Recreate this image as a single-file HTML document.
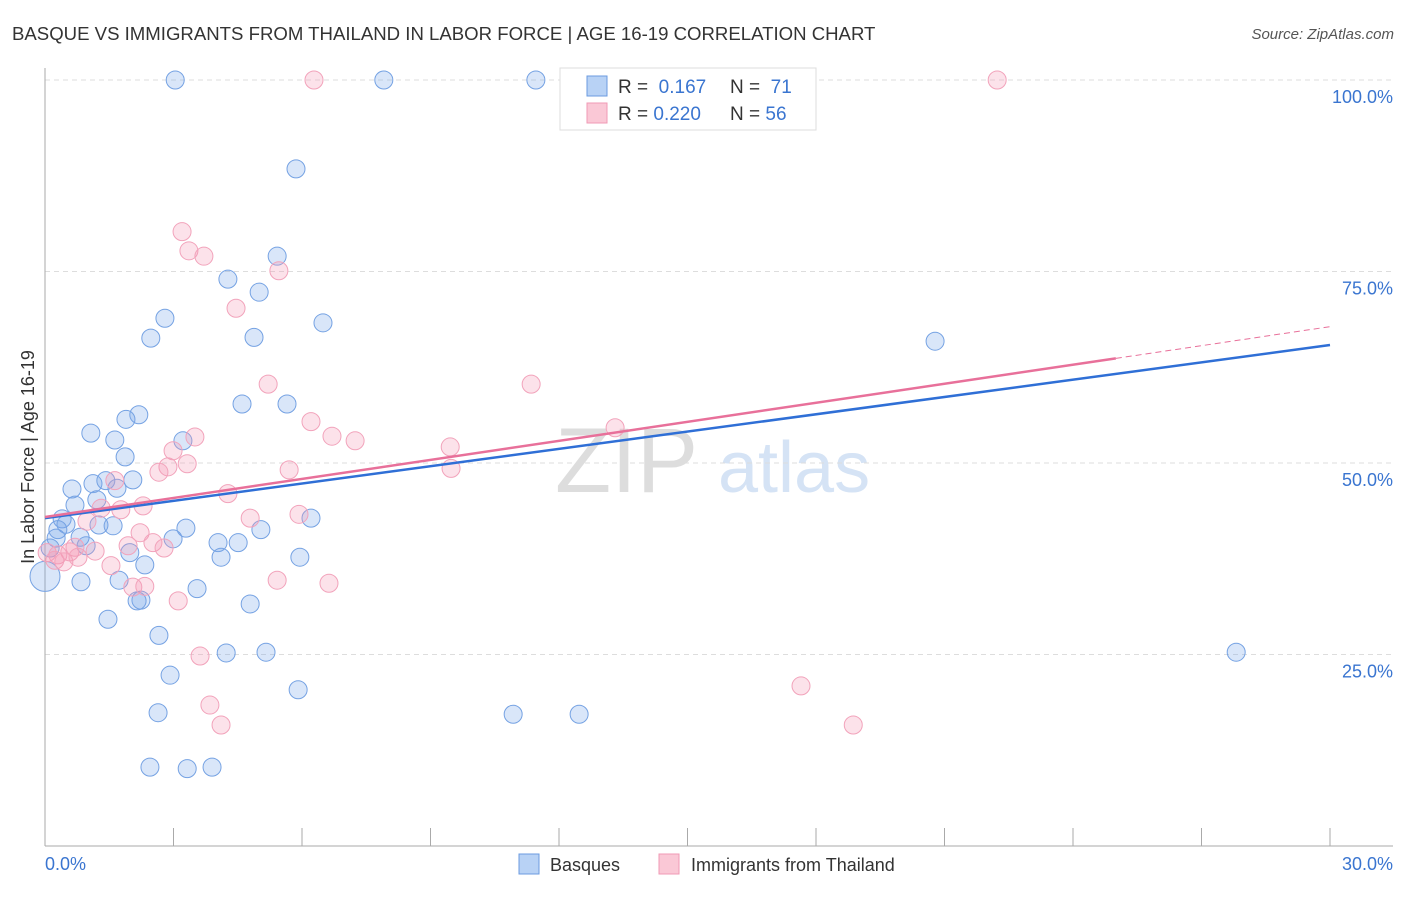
<!DOCTYPE html>
<html><head><meta charset="utf-8"><style>
body{margin:0;background:#fff;font-family:"Liberation Sans",sans-serif;}
svg text{font-family:"Liberation Sans",sans-serif;}
</style></head><body>
<svg id="chart" width="1406" height="892">
<text x="12" y="40" font-size="18.6" fill="#333">BASQUE VS IMMIGRANTS FROM THAILAND IN LABOR FORCE | AGE 16-19 CORRELATION CHART</text>
<text x="1394" y="39" font-size="15" fill="#555" font-style="italic" text-anchor="end">Source: ZipAtlas.com</text>
<text x="555" y="492" font-size="92" fill="#ddd" font-family="Liberation Serif,serif">ZIP</text>
<text x="718" y="492" font-size="72" fill="#d5e3f5">atlas</text>
<g id="grid"></g>
<g id="pts"></g>
<g id="lines"></g>
<text transform="translate(34,457) rotate(-90)" font-size="18" fill="#333" text-anchor="middle">In Labor Force | Age 16-19</text>
<text x="45" y="870" font-size="18" fill="#3a75d0">0.0%</text>
<text x="1393" y="870" font-size="18" fill="#3a75d0" text-anchor="end">30.0%</text>
<g>
<rect x="560" y="68" width="256" height="62" fill="#fff" stroke="#ddd"/>
<rect x="587" y="76" width="20" height="20" fill="#b8d2f5" stroke="#6b9be0"/>
<rect x="587" y="103" width="20" height="20" fill="#fac8d6" stroke="#f09ab5"/>
<text x="618" y="93" font-size="19" fill="#333">R = <tspan fill="#3a75d0">&#160;0.167</tspan></text>
<text x="730" y="93" font-size="19" fill="#333">N = <tspan fill="#3a75d0">&#160;71</tspan></text>
<text x="618" y="120" font-size="19" fill="#333">R = <tspan fill="#3a75d0">0.220</tspan></text>
<text x="730" y="120" font-size="19" fill="#333">N = <tspan fill="#3a75d0">56</tspan></text>
</g>
<g>
<rect x="519" y="854" width="20" height="20" fill="#b8d2f5" stroke="#6b9be0"/>
<text x="550" y="871" font-size="18" fill="#333">Basques</text>
<rect x="659" y="854" width="20" height="20" fill="#fac8d6" stroke="#f09ab5"/>
<text x="691" y="871" font-size="18" fill="#333">Immigrants from Thailand</text>
</g>
</svg>
<script>
const yTicks=[25,50,75,100];
const yTickLabels=["25.0%","50.0%","75.0%","100.0%"];
const blueX=[3.04,7.91,11.46,5.86,5.42,4.27,5.00,2.80,6.49,2.47,4.88,20.78,4.60,5.65,2.19,1.89,1.07,1.63,3.22,1.87,0.63,1.12,1.42,2.05,1.68,1.21,0.70,0.40,0.49,0.30,1.26,1.59,0.96,0.26,0.82,1.98,3.29,2.99,4.04,4.51,5.04,6.21,5.95,4.11,2.33,1.73,0.84,3.55,2.24,2.15,4.79,1.47,2.66,2.92,4.23,5.16,5.91,2.64,10.93,12.47,2.45,3.32,3.90,27.81,0.12];
const blueY=[100,100,100,88.4,77.0,74.0,72.3,68.9,68.3,66.3,66.4,65.9,57.7,57.7,56.3,55.7,53.9,53.0,52.9,50.8,46.6,47.3,47.7,47.8,46.7,45.2,44.5,42.7,42.0,41.3,41.9,41.8,39.2,40.2,40.3,38.3,41.5,40.1,39.6,39.6,41.3,42.8,37.7,37.7,36.7,34.7,34.5,33.6,32.1,32.0,31.6,29.6,27.5,22.3,25.2,25.3,20.4,17.4,17.2,17.2,10.3,10.1,10.3,25.3,38.9];
const pinkX=[6.28,22.23,3.20,3.36,3.71,5.46,4.46,5.21,11.35,3.50,6.21,6.70,7.24,2.99,13.31,9.46,3.32,2.87,2.66,9.48,5.70,1.63,4.27,2.29,5.93,1.31,1.77,4.79,2.22,0.98,2.52,1.94,2.78,0.70,0.05,0.30,0.58,1.17,0.23,0.44,0.77,1.54,2.05,2.33,3.11,5.42,6.63,3.62,17.65,3.85,4.11,18.87];
const pinkY=[100,100,80.2,77.7,77.0,75.1,70.2,60.3,60.3,53.4,55.4,53.5,52.9,51.6,54.6,52.1,49.9,49.5,48.8,49.3,49.1,47.7,46.0,44.4,43.3,44.1,43.9,42.8,40.9,42.4,39.6,39.2,38.9,39.0,38.3,38.0,38.4,38.5,37.3,37.1,37.7,36.6,33.8,33.9,32.0,34.7,34.3,24.8,20.9,18.4,15.8,15.8];
const blueTrend=[42.8,65.4];
const pinkTrend=[42.95,67.8];
const pinkSolidEnd=25;
const NS="http://www.w3.org/2000/svg";
const X=v=>45+v/30*1285;
const Y=v=>846-v/100*766;
function mk(t,a,p){const e=document.createElementNS(NS,t);for(const k in a)e.setAttribute(k,a[k]);p.appendChild(e);return e;}
const grid=document.getElementById('grid');
yTicks.forEach((t,i)=>{
 const l=mk('line',{x1:45,x2:1393,y1:Y(t),y2:Y(t),stroke:'#ddd','stroke-dasharray':'5,4'},grid);
 
 
 const tx=mk('text',{x:1393,y:Y(t)+23,'font-size':18,fill:'#3a75d0','text-anchor':'end'},grid);
 tx.textContent=yTickLabels[i];
 
 
});
const ax=mk('line',{x1:45,x2:45,y1:68,y2:846,stroke:'#aaa'},grid);


const bx=mk('line',{x1:45,x2:1393,y1:846,y2:846,stroke:'#aaa'},grid);


for(let i=0;i<=10;i++){
 const t=mk('line',{x1:X(i*3),x2:X(i*3),y1:828,y2:846,stroke:'#aaa'},grid);
 
 
}
const pts=document.getElementById('pts');
blueX.forEach((x,i)=>{
 const c=mk('circle',{cx:X(x),cy:Y(blueY[i]),r:9,fill:'rgba(120,165,235,0.28)',stroke:'#75a2e3','stroke-width':1},pts);
 
 
});
const big=mk('circle',{cx:X(0),cy:Y(35.2),r:15,fill:'rgba(120,165,235,0.28)',stroke:'#75a2e3'},pts);


pinkX.forEach((x,i)=>{
 const c=mk('circle',{cx:X(x),cy:Y(pinkY[i]),r:9,fill:'rgba(245,150,180,0.28)',stroke:'#f2a3bb','stroke-width':1},pts);
 
 
});
const lines=document.getElementById('lines');
const lb=mk('line',{x1:X(0),y1:Y(blueTrend[0]),x2:X(30),y2:Y(blueTrend[1]),stroke:'#2f6fd6','stroke-width':2.5},lines);


const pe=pinkTrend[0]+(pinkTrend[1]-pinkTrend[0])*pinkSolidEnd/30;
const lp=mk('line',{x1:X(0),y1:Y(pinkTrend[0]),x2:X(pinkSolidEnd),y2:Y(pe),stroke:'#e8709a','stroke-width':2.5},lines);


const ld=mk('line',{x1:X(pinkSolidEnd),y1:Y(pe),x2:X(30),y2:Y(pinkTrend[1]),stroke:'#e8709a','stroke-width':1,'stroke-dasharray':'6,4'},lines);


</script>
</body></html>
